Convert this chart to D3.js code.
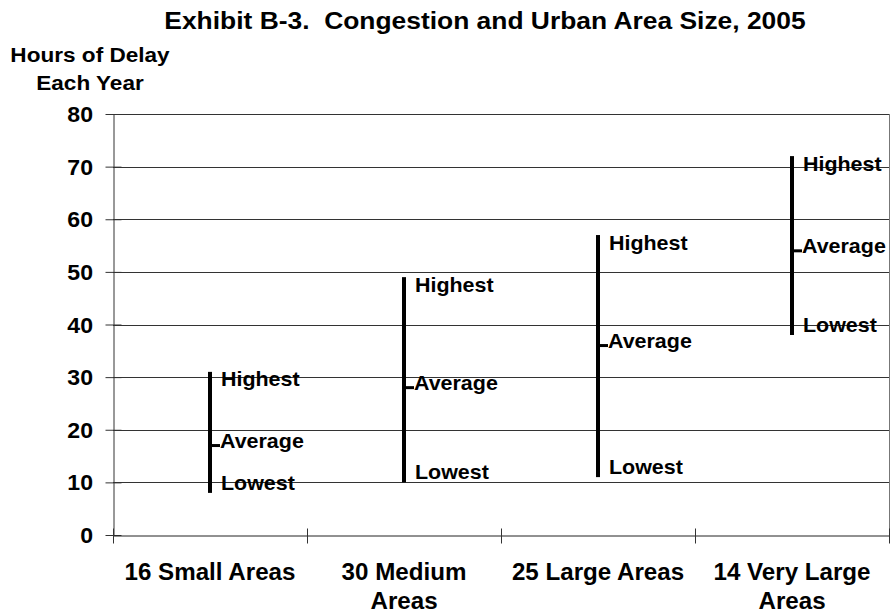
<!DOCTYPE html>
<html>
<head>
<meta charset="utf-8">
<script src="https://cdn.jsdelivr.net/npm/d3@7"></script>
<style>
  html, body { margin: 0; padding: 0; background: #fff; }
  svg { display: block; }
  text { font-family: "Liberation Sans", Arial, sans-serif; font-weight: bold; fill: #000; }
</style>
</head>
<body>
<svg id="chart" width="893" height="615"></svg>
<script>
// ---- data ----
const categories = ["16 Small Areas", "30 Medium Areas", "25 Large Areas", "14 Very Large Areas"];
const highest = [31, 49, 57, 72];
const average = [17, 28, 36, 54];
const lowest  = [8, 10, 11, 38];
const yTicks  = [0, 10, 20, 30, 40, 50, 60, 70, 80];
const titleText = "Exhibit B-3.  Congestion and Urban Area Size, 2005";
const yTitleLines = ["Hours of Delay", "Each Year"];

// ---- layout ----
const svg = d3.select("#chart");
const plotLeft = 113, plotRight = 889, plotTop = 114, plotBottom = 535;

const x = d3.scaleBand().domain(categories).range([plotLeft, plotRight]).padding(0);
const y = d3.scaleLinear().domain([0, 80]).range([plotBottom, plotTop]);

function txt(g, px, py, str, size, sx, anchor) {
  return g.append("text")
    .attr("transform", `translate(${px},${py}) scale(${sx},1)`)
    .attr("text-anchor", anchor)
    .style("font-size", size + "px")
    .style("white-space", "pre")
    .text(str);
}

// title
txt(svg, 485, 29, titleText, 24, 1.1, "middle");
// y axis title
yTitleLines.forEach((l, i) => txt(svg, 90, 62 + i * 28, l, 21, 1.075, "middle"));

// gridlines
svg.append("g").selectAll("line").data(yTicks.filter(d => d > 0)).join("line")
  .attr("x1", plotLeft).attr("x2", plotRight)
  .attr("y1", d => Math.round(y(d)) + 0.5).attr("y2", d => Math.round(y(d)) + 0.5)
  .attr("stroke", "#333").attr("stroke-width", 1);

// right border
svg.append("line").attr("x1", plotRight + 0.5).attr("x2", plotRight + 0.5)
  .attr("y1", plotTop).attr("y2", plotBottom).attr("stroke", "#777").attr("stroke-width", 1);

// y axis
const yAxis = d3.axisLeft(y).tickValues(yTicks).tickSize(0).tickFormat(d3.format("d"));
const gy = svg.append("g").attr("transform", `translate(${plotLeft + 0.5},0)`).call(yAxis);
gy.select(".domain").attr("stroke", "#333");
gy.selectAll(".tick text").remove();
gy.selectAll(".tick").append("line").attr("x1", -8).attr("x2", 8).attr("stroke", "#333");
yTicks.forEach(v => txt(svg, 93, y(v) + 8, String(v), 22, 1.05, "end"));

// x axis
const xAxis = d3.axisBottom(x).tickSize(0).tickFormat("");
const gx = svg.append("g").attr("transform", `translate(0,${Math.round(plotBottom) + 0.5})`).call(xAxis);
gx.select(".domain").attr("stroke", "#222");
gx.selectAll(".tick").remove();
const bounds = categories.map(c => x(c)).concat([plotRight]);
gx.selectAll("line.xt").data(bounds).join("line").attr("class", "xt")
  .attr("x1", d => Math.round(d) + 0.5).attr("x2", d => Math.round(d) + 0.5)
  .attr("y1", -7).attr("y2", 8).attr("stroke", "#333");

// category labels (wrapped when wider than the band)
categories.forEach(c => {
  const cx = x(c) + x.bandwidth() / 2;
  const t = txt(svg, cx, 580, c, 23, 1.05, "middle");
  const w = t.node().getComputedTextLength() * 1.05;
  if (w > x.bandwidth() - 4) {
    const words = c.split(" ");
    const last = words.pop();
    t.text(words.join(" "));
    txt(svg, cx, 609, last, 23, 1.05, "middle");
  }
});

// high-low bars
const gBars = svg.append("g");
categories.forEach((c, i) => {
  const cx = x(c) + x.bandwidth() / 2;
  gBars.append("line").attr("x1", cx).attr("x2", cx)
    .attr("y1", y(lowest[i])).attr("y2", y(highest[i]))
    .attr("stroke", "#000").attr("stroke-width", 4);
  gBars.append("line").attr("x1", cx).attr("x2", cx + 10)
    .attr("y1", y(average[i])).attr("y2", y(average[i]))
    .attr("stroke", "#000").attr("stroke-width", 3);
  const lx = cx + 11;
  txt(gBars, lx, y(highest[i]) + 7.5 + 7, "Highest", 19.5, 1.1, "start");
  txt(gBars, lx - 1, y(average[i]) - 4.5 + 7, "Average", 19.5, 1.1, "start");
  txt(gBars, lx, y(lowest[i]) - 10 + 7, "Lowest", 19.5, 1.1, "start");
});
</script>
</body>
</html>
